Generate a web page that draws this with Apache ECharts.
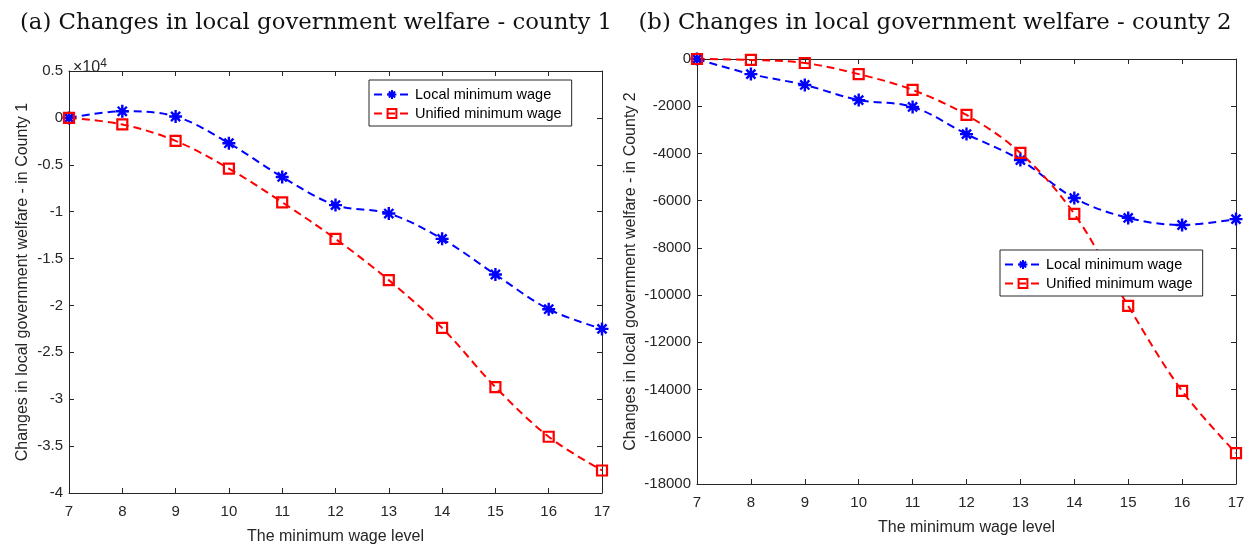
<!DOCTYPE html>
<html>
<head>
<meta charset="utf-8">
<script src="https://cdn.jsdelivr.net/npm/echarts@6/dist/echarts.min.js"></script>
<style>
  html, body { margin: 0; padding: 0; background: #fff; }
  #main { width: 1248px; height: 544px; }
</style>
</head>
<body>
<div id="main"></div>
<script>
// minimum wage levels
var wageLevels = [7, 8, 9, 10, 11, 12, 13, 14, 15, 16, 17];

// county 1 (raw values, axis shown in units of 1e4)
var county1Local = [0, 700, 150, -2700, -6300, -9300, -10200, -12900, -16700, -20400, -22500];
var county1Unified = [0, -700, -2450, -5400, -9000, -12900, -17300, -22400, -28700, -34000, -37600];

// county 2
var county2Local = [0, -640, -1100, -1740, -2030, -3180, -4280, -5890, -6730, -7030, -6780];
var county2Unified = [0, -40, -170, -640, -1310, -2370, -3980, -6560, -10460, -14060, -16690];

var seriesNames = ['Local minimum wage', 'Unified minimum wage'];

function pairs (ys) {
    return wageLevels.map(function (x, i) { return [x, ys[i]]; });
}

var starPath = 'path://M0,-10L0,10M-10,0L10,0M-7,-7L7,7M-7,7L7,-7';
var axisColor = '#262626';
var sans = 'Liberation Sans';

function makeSeries (name, data, idx, isLocal) {
    return {
        name: name,
        type: 'line',
        xAxisIndex: idx * 2,
        yAxisIndex: idx * 2,
        data: pairs(data),
        smooth: 0.35,
        symbol: isLocal ? starPath : 'rect',
        symbolSize: isLocal ? 13 : 10,
        showAllSymbol: true,
        color: isLocal ? '#0000ff' : '#ff0000',
        itemStyle: isLocal
            ? { color: '#0000ff', borderColor: '#0000ff', borderWidth: 2.4 }
            : { color: 'rgba(255,255,255,0)', borderColor: '#ff0000', borderWidth: 2.2 },
        lineStyle: { width: 2, type: [8, 5], color: isLocal ? '#0000ff' : '#ff0000' },
        animation: false
    };
}

function xAxes (gi, nameGap) {
    return [
        {
            gridIndex: gi, type: 'value', min: 7, max: 17, interval: 1,
            name: 'The minimum wage level', nameLocation: 'middle', nameGap: nameGap,
            nameTextStyle: { fontFamily: sans, fontSize: 16, color: axisColor },
            axisLine: { onZero: false, lineStyle: { color: axisColor } },
            axisTick: { inside: true, length: 5, lineStyle: { color: axisColor } },
            axisLabel: { fontFamily: sans, fontSize: 15, color: axisColor, margin: 11 },
            splitLine: { show: false }
        },
        {
            gridIndex: gi, type: 'value', min: 7, max: 17, interval: 1, position: 'top',
            axisLine: { onZero: false, lineStyle: { color: axisColor } },
            axisTick: { inside: true, length: 5, lineStyle: { color: axisColor } },
            axisLabel: { show: false },
            splitLine: { show: false }
        }
    ];
}

function yAxes (gi, min, max, interval, name, nameGap, fmt) {
    return [
        {
            gridIndex: gi, type: 'value', min: min, max: max, interval: interval,
            name: name, nameLocation: 'middle', nameGap: nameGap,
            nameTextStyle: { fontFamily: sans, fontSize: 16, color: axisColor },
            axisLine: { show: true, onZero: false, lineStyle: { color: axisColor } },
            axisTick: { show: true, inside: true, length: 5, lineStyle: { color: axisColor } },
            axisLabel: { fontFamily: sans, fontSize: 15, color: axisColor, margin: 6, formatter: fmt },
            splitLine: { show: false }
        },
        {
            gridIndex: gi, type: 'value', min: min, max: max, interval: interval, position: 'right',
            axisLine: { show: true, onZero: false, lineStyle: { color: axisColor } },
            axisTick: { show: true, inside: true, length: 5, lineStyle: { color: axisColor } },
            axisLabel: { show: false },
            splitLine: { show: false }
        }
    ];
}

var chart = echarts.init(document.getElementById('main'));
var legendBase = {
    orient: 'vertical',
    data: seriesNames,
    itemWidth: 36,
    itemHeight: 11,
    itemGap: 4,
    padding: [7, 10, 5, 4],
    borderColor: axisColor,
    borderWidth: 1,
    backgroundColor: '#fff',
    textStyle: { fontFamily: sans, fontSize: 14.5, color: '#000' }
};

var option = {
    backgroundColor: '#fff',
    title: [
        {
            text: '(a) Changes in local government welfare - county 1',
            left: 311, top: 7, textAlign: 'center',
            textStyle: { fontFamily: 'DejaVu Serif', fontWeight: 'normal', fontSize: 22.8, color: '#111' }
        },
        {
            text: '(b) Changes in local government welfare - county 2',
            left: 930, top: 7, textAlign: 'center',
            textStyle: { fontFamily: 'DejaVu Serif', fontWeight: 'normal', fontSize: 22.8, color: '#111' }
        },
        {
            text: '×10{s|4}',
            left: 68, top: 53,
            textStyle: {
                fontFamily: sans, fontWeight: 'normal', fontSize: 16, color: axisColor,
                rich: { s: { fontFamily: sans, fontSize: 12, verticalAlign: 'top', color: axisColor, padding: [0, 0, 8, 0] } }
            }
        }
    ],
    legend: [
        Object.assign({}, legendBase, { left: 369, top: 80 }),
        Object.assign({}, legendBase, { left: 1000, top: 250 })
    ],
    grid: [
        { left: 69, top: 71, width: 533, height: 422, outerBoundsMode: 'none' },
        { left: 697, top: 59, width: 539, height: 425, outerBoundsMode: 'none' }
    ],
    xAxis: xAxes(0, 36).concat(xAxes(1, 36)),
    yAxis: yAxes(0, -40000, 5000, 5000, 'Changes in local government welfare - in County 1', 38,
                 function (v) { return String(Math.round(v / 1000) / 10); })
        .concat(yAxes(1, -18000, 0, 2000, 'Changes in local government welfare - in County 2', 58,
                 function (v) { return String(v); })),
    series: [
        makeSeries(seriesNames[0], county1Local, 0, true),
        makeSeries(seriesNames[1], county1Unified, 0, false),
        makeSeries(seriesNames[0], county2Local, 1, true),
        makeSeries(seriesNames[1], county2Unified, 1, false)
    ]
};
chart.setOption(option);
</script>
</body>
</html>
